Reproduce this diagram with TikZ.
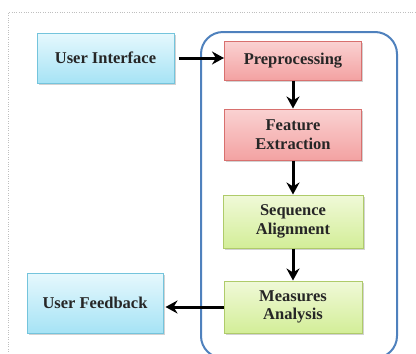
\documentclass[tikz,border=0pt]{standalone}
\usepackage{fontspec}
\setmainfont{Liberation Serif}
\usetikzlibrary{arrows.meta,shadows}

\definecolor{uiedge}{HTML}{74C4DC}
\definecolor{uitop}{HTML}{E6F8FD}
\definecolor{uibot}{HTML}{A6E3F5}
\definecolor{rededge}{HTML}{D8706E}
\definecolor{redtop}{HTML}{FAD2D2}
\definecolor{redbot}{HTML}{F3A2A2}
\definecolor{grnedge}{HTML}{AFCB6A}
\definecolor{grntop}{HTML}{F0F9D8}
\definecolor{grnbot}{HTML}{D3EE98}
\definecolor{groupedge}{HTML}{4F81BD}

\tikzset{
  block/.style={draw, line width=1pt, align=center, inner sep=0pt,
    font=\bfseries\fontsize{16.5}{18.5}\selectfont, text=black!85,
    drop shadow={shadow xshift=1.5pt, shadow yshift=-2pt, fill=black!35}},
  userbox/.style={block, draw=uiedge, top color=uitop, bottom color=uibot},
  redbox/.style={block, draw=rededge, top color=redtop, bottom color=redbot},
  greenbox/.style={block, draw=grnedge, top color=grntop, bottom color=grnbot},
  flow/.style={-{Stealth[length=12pt,width=13pt]}, line width=3pt}
}

\begin{document}
\begin{tikzpicture}[x=1pt,y=-1pt]
  \clip (0,0) rectangle (416,354);
  \path[draw,gray!50,dotted] (8,354) -- (8,12) -- (416,12);
  % processing group
  \path[draw,groupedge,line width=2pt,rounded corners=22pt] (201,32) rectangle (397,358);

  \node[userbox, minimum width=137pt, minimum height=50pt] (ui) at (105.5,58) {User Interface};
  \node[redbox, minimum width=137pt, minimum height=39pt] (pre) at (293,60.5) {Preprocessing};
  \node[redbox, minimum width=137pt, minimum height=51pt] (feat) at (293,134.5) {Feature\\Extraction};
  \node[greenbox, minimum width=140pt, minimum height=53pt] (seq) at (293,221.5) {Sequence\\Alignment};
  \node[greenbox, minimum width=138pt, minimum height=52pt] (meas) at (293,307) {Measures\\Analysis};
  \node[userbox, minimum width=136pt, minimum height=60pt] (fb) at (95,303) {User Feedback};

  \path[draw,flow,shorten <=4pt] (ui.east) -- (pre.west |- ui.east);
  \path[draw,flow] (pre.south) -- (feat.north);
  \path[draw,flow] (feat.south) -- (seq.north);
  \path[draw,flow] (seq.south) -- (meas.north);
  \path[draw,flow,shorten >=2pt] (meas.west) -- (fb.east |- meas.west);
\end{tikzpicture}
\end{document}
